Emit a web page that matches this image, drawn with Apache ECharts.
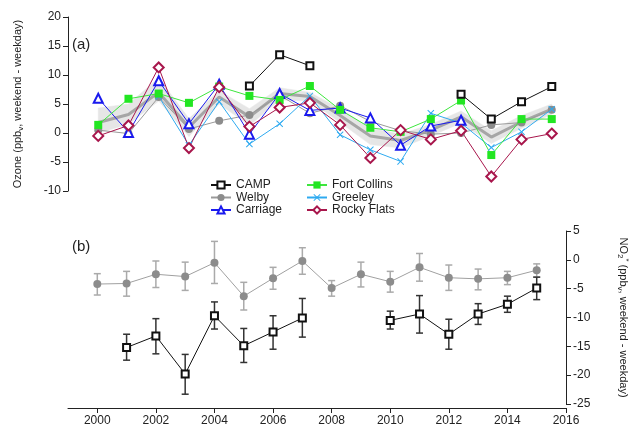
<!DOCTYPE html>
<html>
<head>
<meta charset="utf-8">
<script src="https://cdn.jsdelivr.net/npm/echarts@6/dist/echarts.min.js"></script>
<style>
  html, body { margin: 0; padding: 0; background: #fff; }
  #chart { width: 638px; height: 431px; }
</style>
</head>
<body>
<div id="chart"></div>
<script>
const years = [2000, 2001, 2002, 2003, 2004, 2005, 2006, 2007, 2008, 2009, 2010, 2011, 2012, 2013, 2014, 2015];
const xTicks = [2000, 2002, 2004, 2006, 2008, 2010, 2012, 2014, 2016];

// (a) ozone weekend - weekday, ppbv
const ozCamp = [null, null, null, null, null, 8.1, 13.5, 11.6, null, null, null, null, 6.7, 2.4, 5.4, 8.0];
const ozWelby = [0.5, -0.1, 6.2, 0.7, 2.1, 3.1, 6.5, 3.4, 4.7, 2.0, 0.4, -0.2, 0.0, 1.4, 1.8, 4.0];
const ozCarriage = [6.0, 0.1, 9.0, 1.6, 8.4, -0.2, 6.8, 3.9, 4.3, 2.6, -2.1, 1.2, 2.2, null, null, null];
const ozFortCollins = [1.4, 5.9, 6.8, 5.2, 8.0, 6.4, 5.7, 8.1, 4.0, 0.9, 0.2, 2.4, 5.6, -3.8, 2.4, 2.4];
const ozGreeley = [null, null, 6.3, -2.1, 5.4, -1.9, 1.6, 6.4, -0.3, -2.9, -4.9, 3.4, 1.7, -2.5, 0.2, 4.1];
const ozRockyFlats = [-0.5, 1.3, 11.3, -2.6, 7.9, 1.1, 4.4, 5.2, 1.4, -4.3, 0.5, -1.1, 0.4, -7.5, -1.1, -0.1];
const ozMean = [1.8, 3.2, 7.0, 1.0, 6.2, 2.8, 6.8, 6.3, 3.0, -0.5, -1.3, 0.5, 2.8, -0.7, 1.9, 4.1];
const ozBandLow = [0.0, 1.5, 5.5, -0.6, 5.0, 1.3, 5.7, 5.5, 1.8, -2.0, -2.6, -0.5, 1.7, -1.8, 0.8, 3.2];
const ozBandHigh = [4.3, 5.0, 9.5, 2.5, 7.3, 4.2, 7.8, 7.0, 4.2, 0.8, -0.2, 1.5, 3.8, 0.4, 3.0, 5.0];

// (b) NO2 weekend - weekday, ppbv
const noWelby = [-4.2, -4.1, -2.5, -2.9, -0.5, -6.3, -3.2, -0.2, -4.9, -2.5, -3.8, -1.3, -3.1, -3.3, -3.1, -1.8];
const noWelbyLow = [-6.1, -6.3, -4.8, -5.3, -4.1, -8.7, -5.1, -2.5, -6.3, -4.7, -5.6, -3.7, -5.3, -5.2, -4.3, -3.0];
const noWelbyHigh = [-2.4, -2.0, -0.2, -0.4, 3.2, -3.9, -1.3, 2.1, -3.6, -0.4, -2.0, 1.1, -0.9, -1.6, -2.0, -0.7];
const noCamp = [null, -15.2, -13.2, -19.8, -9.7, -14.9, -12.5, -10.1, null, null, -10.5, -9.4, -12.9, -9.4, -7.7, -4.9];
const noCampLow = [null, -17.4, -16.3, -23.3, -12.0, -17.8, -15.5, -13.4, null, null, -12.0, -12.7, -15.5, -11.2, -9.1, -6.9];
const noCampHigh = [null, -12.9, -10.2, -16.4, -7.3, -11.9, -9.7, -6.7, null, null, -8.9, -6.2, -10.3, -7.6, -6.3, -3.0];

const FONT = "'Liberation Sans', Arial, sans-serif";
const TXT = "#222";

function pairs(vals) {
  return years.map((y, i) => [y, vals[i] == null ? "-" : vals[i]]);
}

function errPairs(low, high) {
  return years
    .map((y, i) => [y, low[i], high[i]])
    .filter((d) => d[1] != null);
}

// one quad per year-to-year step of the shaded range
const bandData = years.slice(0, -1).map((y, i) => [
  y, ozBandLow[i], ozBandHigh[i], years[i + 1], ozBandLow[i + 1], ozBandHigh[i + 1],
]);

const xSymbol = "path://M0,1L1,0L5,4L9,0L10,1L6,5L10,9L9,10L5,6L1,10L0,9L4,5Z";

function errorBars(color) {
  return function (params, api) {
    const x = api.value(0);
    const lo = api.coord([x, api.value(1)]);
    const hi = api.coord([x, api.value(2)]);
    const w = 3.5;
    const style = { stroke: color, lineWidth: 1.5, fill: null };
    return {
      type: "group",
      children: [
        { type: "line", shape: { x1: lo[0], y1: lo[1], x2: hi[0], y2: hi[1] }, style },
        { type: "line", shape: { x1: lo[0] - w, y1: lo[1], x2: lo[0] + w, y2: lo[1] }, style },
        { type: "line", shape: { x1: hi[0] - w, y1: hi[1], x2: hi[0] + w, y2: hi[1] }, style },
      ],
    };
  };
}

function renderBand(params, api) {
  const a1 = api.coord([api.value(0), api.value(1)]);
  const a2 = api.coord([api.value(0), api.value(2)]);
  const b1 = api.coord([api.value(3), api.value(4)]);
  const b2 = api.coord([api.value(3), api.value(5)]);
  return {
    type: "polygon",
    shape: { points: [a1, b1, b2, a2] },
    style: { fill: "#e6e6e6", stroke: "#e6e6e6", lineWidth: 0.5 },
  };
}

function site(name, vals, color, symbol, size, extra) {
  return Object.assign(
    {
      name,
      type: "line",
      xAxisIndex: 0,
      yAxisIndex: 0,
      data: pairs(vals),
      symbol,
      symbolSize: size,
      lineStyle: { color, width: 1 },
      itemStyle: { color, borderWidth: 1.5 },
      connectNulls: false,
      z: 5,
    },
    extra || {}
  );
}

const chart = echarts.init(document.getElementById("chart"));

const option = {
  animation: false,
  textStyle: { fontFamily: FONT },
  grid: [
    { left: 68, right: 56, top: 17, height: 174 },
    { left: 68, right: 56, top: 231, height: 173 },
  ],
  xAxis: [
    { gridIndex: 0, type: "value", min: 1999, max: 2016, show: false },
    {
      gridIndex: 1,
      type: "value",
      min: 1999,
      max: 2016,
      offset: 4,
      axisLine: { onZero: false, lineStyle: { color: "#222" } },
      axisTick: { length: 5, customValues: xTicks, lineStyle: { color: "#222" } },
      axisLabel: {
        customValues: xTicks,
        color: TXT,
        fontSize: 12,
        margin: 7,
        formatter: (v) => String(v),
      },
      splitLine: { show: false },
    },
  ],
  yAxis: [
    {
      gridIndex: 0,
      type: "value",
      min: -10,
      max: 20,
      interval: 5,
      axisLine: { show: true, lineStyle: { color: "#222" } },
      axisTick: { show: true, length: 5, lineStyle: { color: "#222" } },
      axisLabel: { color: TXT, fontSize: 12, margin: 7 },
      splitLine: { show: false },
      name: "Ozone (ppb{sub|v}, weekend - weekday)",
      nameLocation: "middle",
      nameRotate: 90,
      nameGap: 43,
      nameTextStyle: {
        color: TXT,
        fontSize: 11,
        rich: { sub: { fontSize: 8, padding: [6, 0, 0, 0] } },
      },
    },
    {
      gridIndex: 1,
      type: "value",
      position: "right",
      min: -25,
      max: 5,
      interval: 5,
      axisLine: { show: true, lineStyle: { color: "#222" } },
      axisTick: { show: true, length: 5, lineStyle: { color: "#222" } },
      axisLabel: { color: TXT, fontSize: 12, margin: 7 },
      splitLine: { show: false },
      name: "NO{sub|2}{sup|*} (ppb{sub|v}, weekend - weekday)",
      nameLocation: "middle",
      nameRotate: -90,
      nameGap: 50,
      nameTextStyle: {
        color: TXT,
        fontSize: 11,
        rich: {
          sub: { fontSize: 8, padding: [6, 0, 0, 0] },
          sup: { fontSize: 8, padding: [0, 0, 6, 0] },
        },
      },
    },
  ],
  legend: [
    {
      orient: "vertical",
      left: 210,
      top: 179,
      padding: 0,
      itemGap: 0.5,
      itemWidth: 20,
      itemHeight: 9,
      textStyle: { color: TXT, fontSize: 12, lineHeight: 12 },
      data: ["CAMP", "Welby", "Carriage"],
    },
    {
      orient: "vertical",
      left: 306,
      top: 179,
      padding: 0,
      itemGap: 0.5,
      itemWidth: 20,
      itemHeight: 9,
      textStyle: { color: TXT, fontSize: 12, lineHeight: 12 },
      data: ["Fort Collins", "Greeley", "Rocky Flats"],
    },
  ],
  graphic: [
    { type: "text", left: 72, top: 37, style: { text: "(a)", font: "15px " + FONT, fill: TXT } },
    { type: "text", left: 72, top: 239, style: { text: "(b)", font: "15px " + FONT, fill: TXT } },
  ],
  series: [
    // shaded range and mean across sites
    {
      name: "band",
      type: "custom",
      xAxisIndex: 0,
      yAxisIndex: 0,
      data: bandData,
      renderItem: renderBand,
      encode: { x: [0, 3], y: [1, 2, 4, 5] },
      silent: true,
      z: 1,
    },
    {
      name: "mean",
      type: "line",
      data: pairs(ozMean),
      symbol: "none",
      lineStyle: { color: "#a6a6a6", width: 3 },
      silent: true,
      z: 2,
    },
    site("Welby", ozWelby, "#8c8c8c", "circle", 8, {
      lineStyle: { color: "#9a9a9a", width: 1 },
      itemStyle: { color: "#8c8c8c" },
    }),
    site("Greeley", ozGreeley, "#2eaaf0", xSymbol, 7, { itemStyle: { color: "#2eaaf0" } }),
    site("Carriage", ozCarriage, "#1a1aee", "emptyTriangle", 9),
    site("Fort Collins", ozFortCollins, "#22e622", "rect", 8, {
      lineStyle: { color: "#3ee63e", width: 1 },
      itemStyle: { color: "#22e622" },
    }),
    site("Rocky Flats", ozRockyFlats, "#a8164c", "emptyDiamond", 10),
    site("CAMP", ozCamp, "#111", "emptyRect", 7),

    // (b) NO2
    {
      name: "Welby err",
      type: "custom",
      xAxisIndex: 1,
      yAxisIndex: 1,
      data: errPairs(noWelbyLow, noWelbyHigh),
      renderItem: errorBars("#aaaaaa"),
      encode: { x: 0, y: [1, 2] },
      z: 2,
    },
    {
      name: "Welby NO2",
      type: "line",
      xAxisIndex: 1,
      yAxisIndex: 1,
      data: pairs(noWelby),
      symbol: "circle",
      symbolSize: 8,
      itemStyle: { color: "#8c8c8c" },
      lineStyle: { color: "#a0a0a0", width: 1 },
      z: 3,
    },
    {
      name: "CAMP err",
      type: "custom",
      xAxisIndex: 1,
      yAxisIndex: 1,
      data: errPairs(noCampLow, noCampHigh),
      renderItem: errorBars("#333"),
      encode: { x: 0, y: [1, 2] },
      z: 2,
    },
    {
      name: "CAMP NO2",
      type: "line",
      xAxisIndex: 1,
      yAxisIndex: 1,
      data: pairs(noCamp),
      connectNulls: false,
      symbol: "emptyRect",
      symbolSize: 7,
      itemStyle: { color: "#111", borderWidth: 1.5 },
      lineStyle: { color: "#111", width: 1 },
      z: 4,
    },
  ],
};

chart.setOption(option);
</script>
</body>
</html>
